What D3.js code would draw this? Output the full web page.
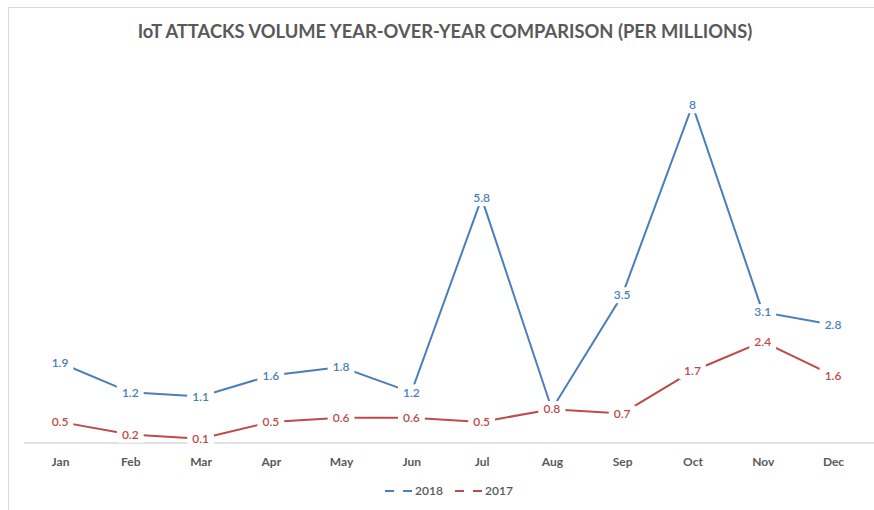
<!DOCTYPE html>
<html>
<head>
<meta charset="utf-8">
<script src="https://cdn.jsdelivr.net/npm/d3@7"></script>
<style>
  body { margin: 0; background: #fff; }
  text { font-family: Lato, "Open Sans", sans-serif; }
</style>
</head>
<body>
<div id="chart"></div>
<script>
// data
const months = ["Jan","Feb","Mar","Apr","May","Jun","Jul","Aug","Sep","Oct","Nov","Dec"]
const values2018 = [1.9, 1.2, 1.1, 1.6, 1.8, 1.2, 5.8, 0.8, 3.5, 8, 3.1, 2.8]
const values2017 = [0.5, 0.2, 0.1, 0.5, 0.6, 0.6, 0.5, 0.8, 0.7, 1.7, 2.4, 1.6]
const seriesNames = ["2018", "2017"]
const seriesColors = ["#4a7ebb", "#be4b48"]

const W = 874, H = 510

var svg = d3.select("#chart")
    .append("svg")
        .attr("width", W)
        .attr("height", H)

// chart border
svg.append("rect")
    .attr("x", 8.5).attr("y", 7.5)
    .attr("width", W + 10).attr("height", H + 10)
    .attr("fill", "#fff")
    .attr("stroke", "#d9d9d9")
    .attr("stroke-width", 1)

let xScale = d3.scalePoint()
    .domain(months)
    .range([60, 833])

let yScale = d3.scaleLinear()
    .domain([0, 9])
    .range([443, 63])

// title
let title = svg.append("text")
    .attr("x", 445).attr("y", 38)
    .attr("text-anchor", "middle")
    .attr("fill", "#595959")
    .attr("font-weight", "bold")
    .attr("font-size", 17)
    .text("IoT ATTACKS VOLUME YEAR-OVER-YEAR COMPARISON (PER MILLIONS)")
let tw = title.node().getComputedTextLength()
title.attr("font-size", 17 * 615 / tw)

// x axis
let xAxis = svg.append("g")
    .attr("transform", "translate(0,443)")
    .call(d3.axisBottom(xScale).tickSize(0).tickPadding(14))
xAxis.select(".domain").remove()
xAxis.append("line")
    .attr("x1", 24).attr("x2", W)
    .attr("stroke", "#d9d9d9").attr("stroke-width", 1.5)
xAxis.selectAll(".tick text")
    .attr("fill", "#595959")
    .attr("font-size", 12)
    .attr("font-weight", "bold")
    .attr("font-family", "Lato, sans-serif")

let series = [values2018, values2017]
let line = d3.line()
    .x((d, i) => xScale(months[i]))
    .y(d => yScale(d))

series.forEach((vals, s) => {
    svg.append("path")
        .datum(vals)
        .attr("fill", "none")
        .attr("stroke", seriesColors[s])
        .attr("stroke-width", 2)
        .attr("d", line)
})

// data labels with white background
series.forEach((vals, s) => {
    let g = svg.append("g")
    let join = g.selectAll("g")
        .data(vals)
        .enter()
        .append("g")
        .attr("transform", (d, i) => `translate(${xScale(months[i])},${yScale(d)})`)
    let txt = join.append("text")
        .attr("text-anchor", "middle")
        .attr("dy", "0.35em")
        .attr("fill", seriesColors[s])
        .attr("font-size", 12)
        .attr("font-weight", 600)
        .text(d => d)
    txt.each(function() {
        let w = this.getComputedTextLength()
        d3.select(this.parentNode).insert("rect", "text")
            .attr("x", -w / 2 - 5).attr("y", -8)
            .attr("width", w + 10).attr("height", 16)
            .attr("fill", "#fff")
    })
})

// legend
let legend = svg.append("g").attr("transform", "translate(385,491)")
seriesNames.forEach((name, i) => {
    let lg = legend.append("g").attr("transform", `translate(${i * 70},0)`)
    lg.append("line")
        .attr("x1", 0).attr("x2", 27)
        .attr("stroke", seriesColors[i])
        .attr("stroke-width", 2)
        .attr("stroke-dasharray", "9,9")
    lg.append("text")
        .attr("x", 30).attr("dy", "0.35em")
        .attr("fill", "#595959")
        .attr("font-size", 12)
        .attr("font-weight", 600)
        .text(name)
})
</script>
</body>
</html>
